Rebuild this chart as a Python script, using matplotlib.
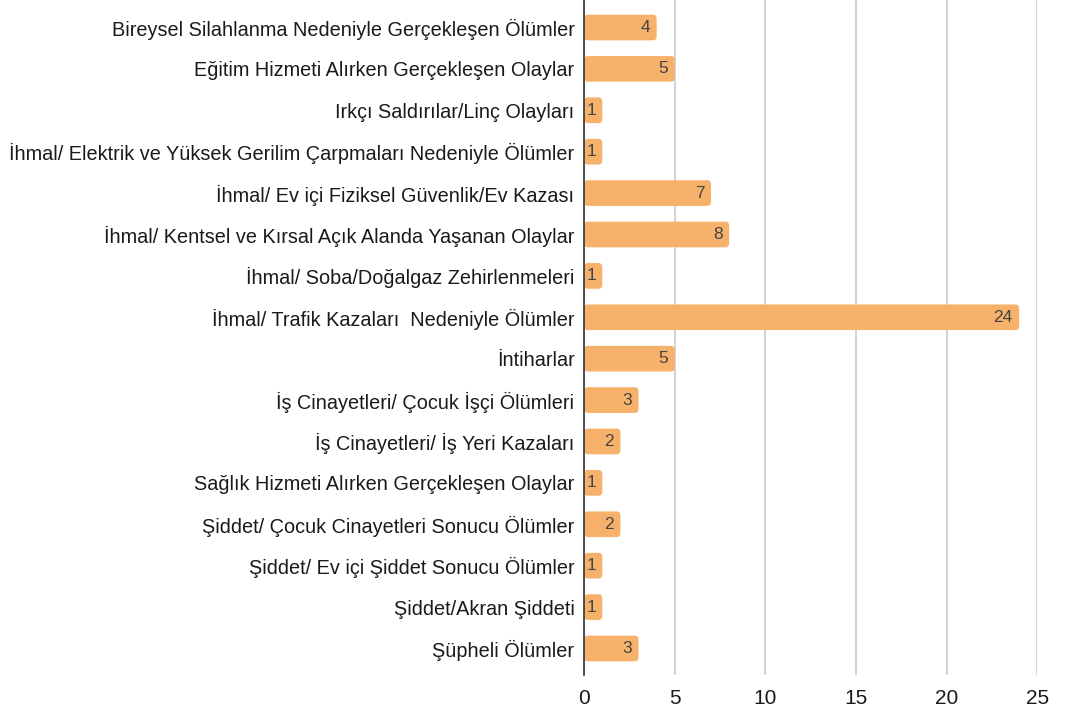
import matplotlib.pyplot as plt
from matplotlib.patches import FancyBboxPatch

categories = [
    "Bireysel Silahlanma Nedeniyle Gerçekleşen Ölümler",
    "Eğitim Hizmeti Alırken Gerçekleşen Olaylar",
    "Irkçı Saldırılar/Linç Olayları",
    "İhmal/ Elektrik ve Yüksek Gerilim Çarpmaları Nedeniyle Ölümler",
    "İhmal/ Ev içi Fiziksel Güvenlik/Ev Kazası",
    "İhmal/ Kentsel ve Kırsal Açık Alanda Yaşanan Olaylar",
    "İhmal/ Soba/Doğalgaz Zehirlenmeleri",
    "İhmal/ Trafik Kazaları  Nedeniyle Ölümler",
    "İntiharlar",
    "İş Cinayetleri/ Çocuk İşçi Ölümleri",
    "İş Cinayetleri/ İş Yeri Kazaları",
    "Sağlık Hizmeti Alırken Gerçekleşen Olaylar",
    "Şiddet/ Çocuk Cinayetleri Sonucu Ölümler",
    "Şiddet/ Ev içi Şiddet Sonucu Ölümler",
    "Şiddet/Akran Şiddeti",
    "Şüpheli Ölümler",
]
values = [4, 5, 1, 1, 7, 8, 1, 24, 5, 3, 2, 1, 2, 1, 1, 3]
xticks = [0, 5, 10, 15, 20, 25]

plt.rcParams['font.family'] = ['Liberation Sans', 'DejaVu Sans']

fig = plt.figure(figsize=(10.66, 7.16), dpi=100)
ax = fig.add_axes([0.548, 0.0573, 0.425, 0.9427])

bar_color = "#F6B26B"
y = list(range(len(categories)))
bars = ax.barh(y, values, height=0.62, color=bar_color, zorder=2)

# swap plain rectangles for slightly rounded ones
for b in bars:
    x0, y0, w, h = b.get_x(), b.get_y(), b.get_width(), b.get_height()
    b.set_visible(False)
    patch = FancyBboxPatch((x0, y0), w, h,
                           boxstyle="round,pad=0,rounding_size=0.2",
                           mutation_aspect=0.5,
                           facecolor=bar_color, edgecolor="none", zorder=2)
    ax.add_patch(patch)

for yi, v in zip(y, values):
    ax.annotate(str(v), (v, yi), xytext=(-4.5, 0), textcoords="offset points",
                ha="right", va="center", fontsize=12.5, color="#444444", zorder=3)

ax.set_yticks(y)
ax.set_yticklabels(categories, fontsize=14.3, color="#1a1a1a")
ax.set_ylim(15.64, -0.664)
ax.set_xlim(0, 25)
ax.set_xticks(xticks)
ax.set_xticklabels([str(t) for t in xticks], fontsize=15, color="#1a1a1a")

ax.grid(axis="x", color="#CCCCCC", linewidth=1.2, zorder=0)
ax.set_axisbelow(True)
for s in ["top", "right", "bottom"]:
    ax.spines[s].set_visible(False)
ax.spines["left"].set_color("#333333")
ax.spines["left"].set_linewidth(1.2)
ax.spines["left"].set_zorder(4)
ax.tick_params(axis="y", length=0, pad=7)
ax.tick_params(axis="x", length=0, pad=10)

fig.savefig("out.png", dpi=100)
